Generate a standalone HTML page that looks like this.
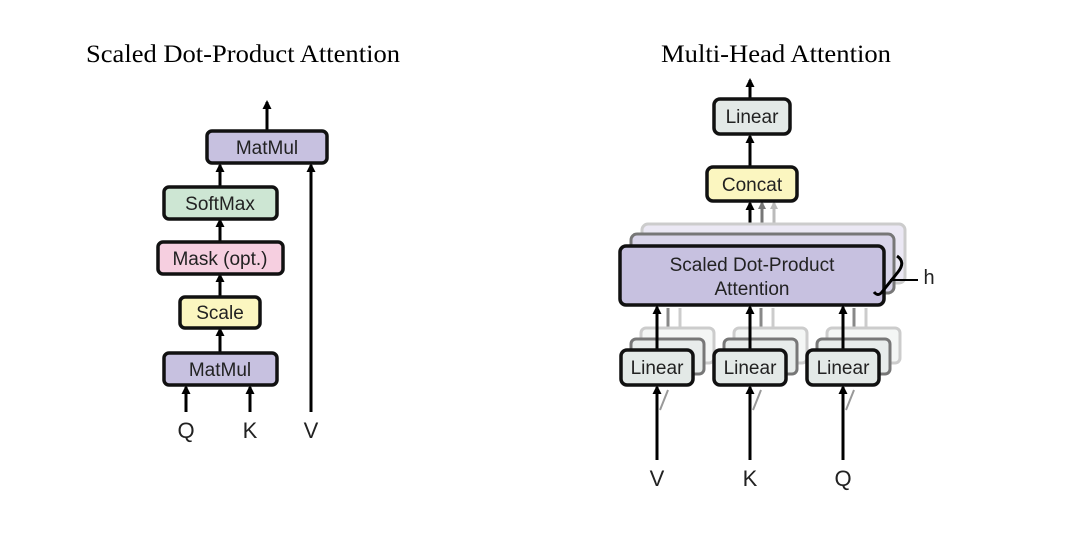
<!DOCTYPE html>
<html><head><style>body{margin:0;background:#fff}svg{display:block}</style></head><body>
<svg width="1087" height="540" viewBox="0 0 1087 540" xmlns="http://www.w3.org/2000/svg">
<defs>
<marker id="a" markerWidth="9" markerHeight="9" refX="7" refY="4.5" orient="auto" markerUnits="userSpaceOnUse"><path d="M0,0 L9,4.5 L0,9 z" fill="#000"/></marker>
<marker id="ag" markerWidth="8" markerHeight="8" refX="6" refY="4" orient="auto" markerUnits="userSpaceOnUse"><path d="M0,0 L8,4 L0,8 z" fill="#777"/></marker>
<marker id="al" markerWidth="8" markerHeight="8" refX="6" refY="4" orient="auto" markerUnits="userSpaceOnUse"><path d="M0,0 L8,4 L0,8 z" fill="#bbb"/></marker>
</defs>
<g font-family="Liberation Serif, serif" font-size="25" text-anchor="middle" fill="#000">
<text x="243" y="62" textLength="314" lengthAdjust="spacingAndGlyphs">Scaled Dot-Product Attention</text>
<text x="776" y="62" textLength="230" lengthAdjust="spacingAndGlyphs">Multi-Head Attention</text>
</g>
<g stroke="#000" stroke-width="3" fill="none">
<line x1="267" y1="131" x2="267" y2="102" marker-end="url(#a)"/>
<line x1="220" y1="187" x2="220" y2="165" marker-end="url(#a)"/>
<line x1="220" y1="242" x2="220" y2="220" marker-end="url(#a)"/>
<line x1="220" y1="297" x2="220" y2="275" marker-end="url(#a)"/>
<line x1="220" y1="353" x2="220" y2="329" marker-end="url(#a)"/>
<line x1="186" y1="412" x2="186" y2="387" marker-end="url(#a)"/>
<line x1="250" y1="412" x2="250" y2="387" marker-end="url(#a)"/>
<line x1="311" y1="412" x2="311" y2="165" marker-end="url(#a)"/>
</g>
<g stroke="#111" stroke-width="3.5" font-family="Liberation Sans, sans-serif" font-size="19" text-anchor="middle">
<rect x="207" y="131" width="120" height="32" rx="5" fill="#c7c1e0"/>
<rect x="164" y="187" width="113" height="32" rx="5" fill="#cde6d3"/>
<rect x="158" y="242" width="125" height="32" rx="5" fill="#f6cfe0"/>
<rect x="180" y="297" width="80" height="31" rx="5" fill="#fbf6c0"/>
<rect x="164" y="353" width="113" height="32" rx="5" fill="#c7c1e0"/>
</g>
<g font-family="Liberation Sans, sans-serif" font-size="19" text-anchor="middle" fill="#222">
<text x="267" y="154">MatMul</text>
<text x="220" y="210">SoftMax</text>
<text x="220" y="265">Mask (opt.)</text>
<text x="220" y="319">Scale</text>
<text x="220" y="376">MatMul</text>
<text x="186" y="438" font-size="22">Q</text>
<text x="250" y="438" font-size="22">K</text>
<text x="311" y="438" font-size="22">V</text>
</g>
<!-- right -->
<g fill="none">
<line x1="750" y1="99" x2="750" y2="80" stroke="#000" stroke-width="3" marker-end="url(#a)"/>
<line x1="750" y1="167" x2="750" y2="136" stroke="#000" stroke-width="3" marker-end="url(#a)"/>
<line x1="774" y1="224" x2="774" y2="203" stroke="#bbb" stroke-width="3" marker-end="url(#al)"/>
<line x1="762" y1="233" x2="762" y2="203" stroke="#777" stroke-width="3" marker-end="url(#ag)"/>
<line x1="750" y1="246" x2="750" y2="203" stroke="#000" stroke-width="3" marker-end="url(#a)"/>
</g>
<rect x="642" y="224" width="263" height="59" rx="6" fill="#ebe8f4" stroke="#ccc" stroke-width="3"/>
<rect x="631" y="234" width="263" height="59" rx="6" fill="#d9d5ea" stroke="#777" stroke-width="3"/>
<g stroke-width="3">
<line x1="680" y1="330" x2="680" y2="308" stroke="#ccc"/><line x1="668" y1="340" x2="668" y2="308" stroke="#888"/>
<line x1="773" y1="330" x2="773" y2="308" stroke="#ccc"/><line x1="761" y1="340" x2="761" y2="308" stroke="#888"/>
<line x1="866" y1="330" x2="866" y2="308" stroke="#ccc"/><line x1="854" y1="340" x2="854" y2="308" stroke="#888"/>
</g>
<rect x="620" y="246" width="264" height="59" rx="6" fill="#c7c1e0" stroke="#111" stroke-width="3.5"/>
<path d="M897,256 Q906,262 898,272 L882,292 Q878,297 874,292" stroke="#000" stroke-width="3" fill="none"/>
<line x1="890" y1="280" x2="918" y2="280" stroke="#000" stroke-width="2"/>
<g font-family="Liberation Sans, sans-serif" font-size="19" text-anchor="middle" fill="#222">
<text x="752" y="271">Scaled Dot-Product</text>
<text x="752" y="295">Attention</text>
<text x="929" y="284" font-size="20">h</text>
</g>
<g stroke-width="3">
<rect x="641" y="328" width="73" height="35" rx="5" fill="#f4f6f5" stroke="#ccc"/>
<rect x="631" y="339" width="73" height="35" rx="5" fill="#e8eceb" stroke="#777"/>
<rect x="734" y="328" width="73" height="35" rx="5" fill="#f4f6f5" stroke="#ccc"/>
<rect x="724" y="339" width="73" height="35" rx="5" fill="#e8eceb" stroke="#777"/>
<rect x="827" y="328" width="73" height="35" rx="5" fill="#f4f6f5" stroke="#ccc"/>
<rect x="817" y="339" width="73" height="35" rx="5" fill="#e8eceb" stroke="#777"/>
</g>
<g stroke="#000" stroke-width="3" fill="none">
<line x1="657" y1="350" x2="657" y2="307" marker-end="url(#a)"/>
<line x1="750" y1="350" x2="750" y2="307" marker-end="url(#a)"/>
<line x1="843" y1="350" x2="843" y2="307" marker-end="url(#a)"/>
<line x1="657" y1="460" x2="657" y2="387" marker-end="url(#a)"/>
<line x1="750" y1="460" x2="750" y2="387" marker-end="url(#a)"/>
<line x1="843" y1="460" x2="843" y2="387" marker-end="url(#a)"/>
</g>
<g stroke="#999" stroke-width="2"><line x1="660" y1="410" x2="668" y2="390"/><line x1="753" y1="410" x2="761" y2="390"/><line x1="846" y1="410" x2="854" y2="390"/></g>
<g stroke="#111" stroke-width="3.5">
<rect x="714" y="99" width="76" height="35" rx="6" fill="#e3e9e7"/>
<rect x="707" y="167" width="90" height="34" rx="6" fill="#fbf6c0"/>
<rect x="621" y="350" width="72" height="35" rx="6" fill="#e3e9e7"/>
<rect x="714" y="350" width="72" height="35" rx="6" fill="#e3e9e7"/>
<rect x="807" y="350" width="72" height="35" rx="6" fill="#e3e9e7"/>
</g>
<g font-family="Liberation Sans, sans-serif" font-size="19" text-anchor="middle" fill="#222">
<text x="752" y="123">Linear</text>
<text x="752" y="191">Concat</text>
<text x="657" y="374">Linear</text>
<text x="750" y="374">Linear</text>
<text x="843" y="374">Linear</text>
<text x="657" y="486" font-size="22">V</text>
<text x="750" y="486" font-size="22">K</text>
<text x="843" y="486" font-size="22">Q</text>
</g>
</svg>
</body></html>
